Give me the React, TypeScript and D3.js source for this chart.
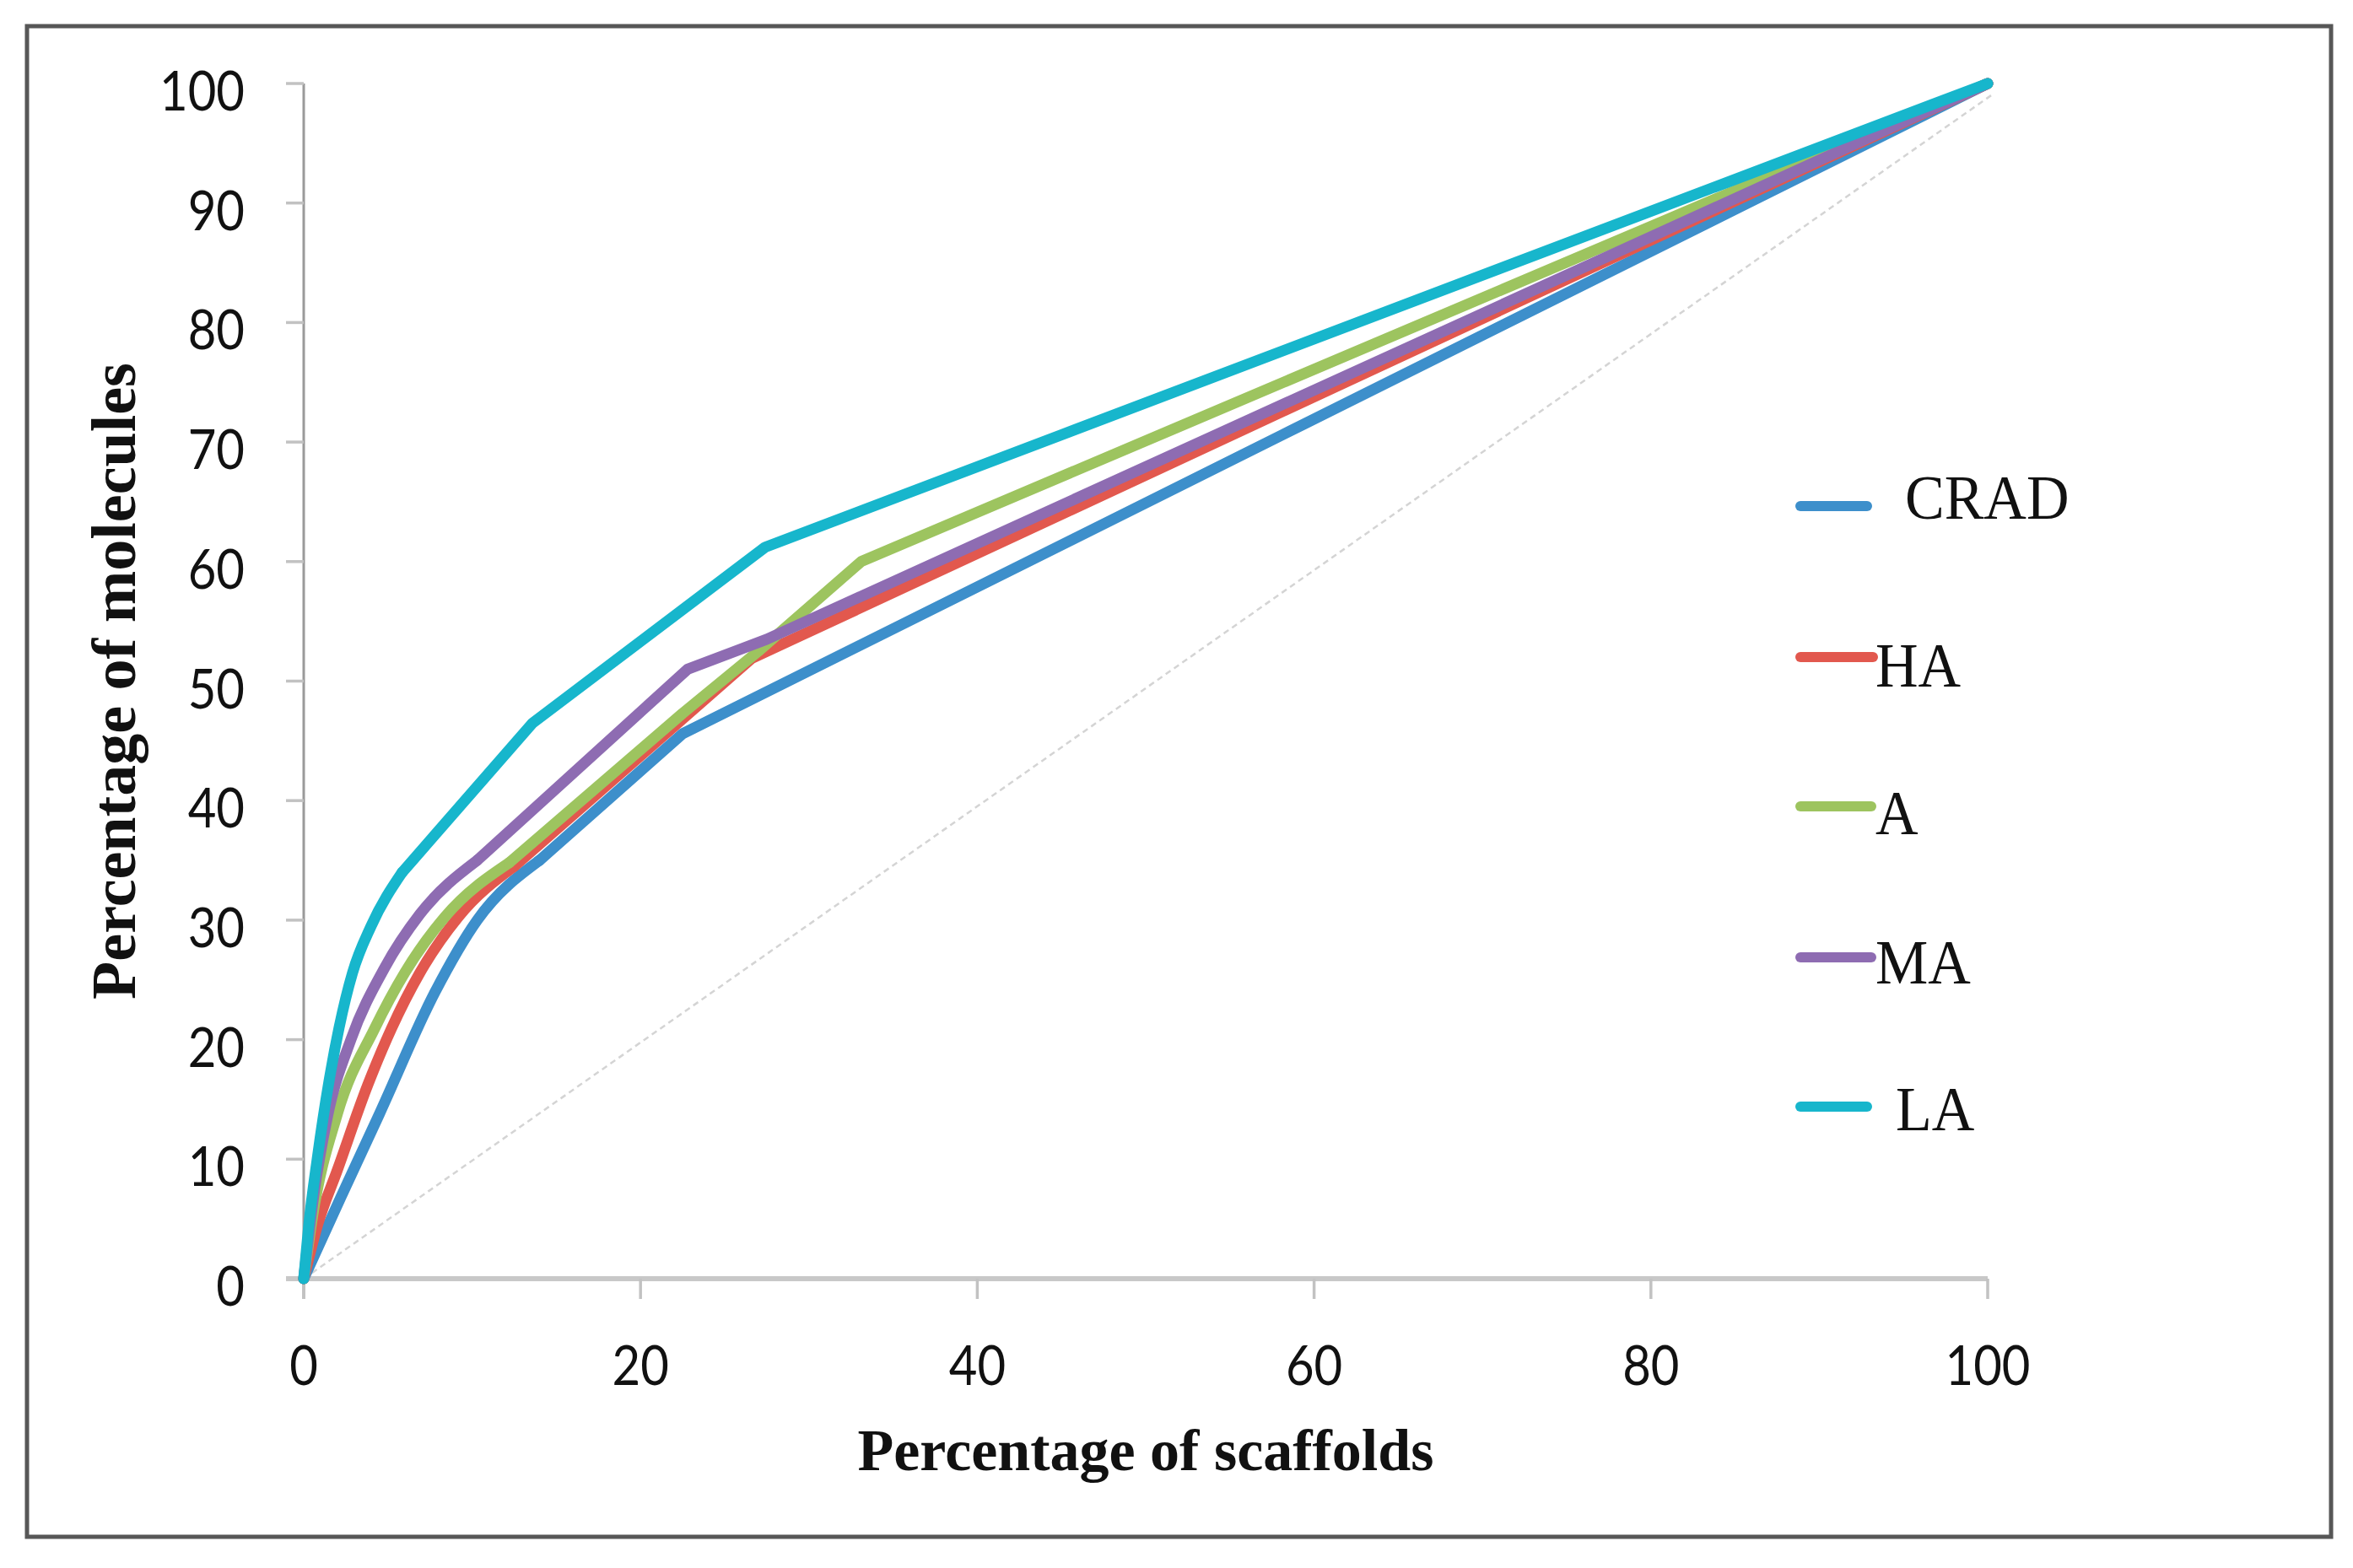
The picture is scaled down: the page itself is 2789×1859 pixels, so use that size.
import React from "react";
import * as d3 from "d3";

// series values: [percentage of scaffolds, percentage of molecules]
const crad: [number, number][] = [
  [0, 0], [2.2, 6.8], [4.5, 13.8], [7.8, 24], [10.3, 30], [14, 35], [22.5, 45.6], [100, 100],
];
const ha: [number, number][] = [
  [0, 0], [0.8, 4.4], [2, 9.1], [3.8, 16.2], [5.2, 20.9], [6.9, 25.6], [9.2, 30.3],
  [12.5, 34.5], [26.6, 51.9], [100, 100],
];
const a: [number, number][] = [
  [0, 0], [0.5, 5], [2, 13.8], [4.2, 20.9], [6, 25.6], [8.4, 30.3], [12.2, 34.8],
  [22.5, 47.3], [27, 52.5], [33.1, 60], [100, 100],
];
const ma: [number, number][] = [
  [0, 0], [0.6, 7], [1.4, 13.5], [2.8, 20], [4.8, 26], [6.9, 30.5], [10.3, 35],
  [22.8, 51], [27.5, 53.5], [100, 100],
];
const la: [number, number][] = [
  [0, 0], [0.3, 4.5], [0.8, 10], [1.5, 16.5], [2.1, 21], [2.9, 25.6], [4, 29.5],
  [5.85, 34], [13.6, 46.5], [27.4, 61.2], [100, 100],
];
const diagonal: [number, number][] = [[0, 0], [100.4, 99.2]];

const seriesNames = ["CRAD", "HA", "A", "MA", "LA"];
const seriesData = [crad, ha, a, ma, la];
// index of the last point of the densely sampled (curved) start of each series
const seriesCurveEnd = [5, 7, 6, 6, 7];
const seriesColors = ["#3d8fcb", "#e2584e", "#9dc45f", "#8e6cb2", "#17b6cc"];

const xTicks = [0, 20, 40, 60, 80, 100];
const yTicks = [0, 10, 20, 30, 40, 50, 60, 70, 80, 90, 100];

const W = 2789;
const H = 1859;

export default function App() {
  const x = d3.scaleLinear().domain([0, 100]).range([360, 2356]);
  const y = d3.scaleLinear().domain([0, 100]).range([1516, 99]);

  const line = d3
    .line<[number, number]>()
    .x((d) => x(d[0]))
    .y((d) => y(d[1]))
    .curve(d3.curveLinear);

  const smooth = d3
    .line<[number, number]>()
    .x((d) => x(d[0]))
    .y((d) => y(d[1]))
    .curve(d3.curveMonotoneX);

  // legend placement (per entry: line end, text start, line y, text baseline)
  const legLineY = [600, 779, 956, 1135, 1312];
  const legTextY = [615, 814, 989, 1166, 1340];
  const legTextX = [2258, 2223, 2223, 2223, 2247];
  const legLineEnd = [2213, 2220, 2218, 2218, 2213];

  return (
    <svg width={W} height={H} style={{ display: "block", background: "#fff" }}>
      <style>{`body{margin:0}`}</style>
      <rect x={32} y={31} width={2731} height={1791} fill="#fff" stroke="#575757" strokeWidth={5} />

      {/* diagonal reference */}
      <path d={line(diagonal) ?? ""} fill="none" stroke="#d4d4d4" strokeWidth={2.5} strokeDasharray="7 5" />

      {/* y axis */}
      <line x1={x(0)} x2={x(0)} y1={y(100)} y2={y(0) + 24} stroke="#9a9a9a" strokeWidth={3} />
      {yTicks.map((t) => (
        <g key={"y" + t}>
          <line x1={x(0) - 21} x2={x(0)} y1={y(t)} y2={y(t)} stroke="#c2c2c2" strokeWidth={3.5} />
          <text
            transform={`translate(290,${y(t) + 32}) scale(1,1.13)`}
            textAnchor="end"
            fontFamily="Lato"
            fontSize={58}
            fill="#111"
          >
            {t}
          </text>
        </g>
      ))}

      {/* x axis */}
      <line x1={x(0) - 21} x2={x(100)} y1={y(0)} y2={y(0)} stroke="#c8c8c8" strokeWidth={6} />
      {xTicks.map((t) => (
        <g key={"x" + t}>
          <line x1={x(t)} x2={x(t)} y1={y(0)} y2={y(0) + 24} stroke="#c2c2c2" strokeWidth={3.5} />
          <text
            transform={`translate(${x(t)},1642) scale(1,1.13)`}
            textAnchor="middle"
            fontFamily="Lato"
            fontSize={58}
            fill="#111"
          >
            {t}
          </text>
        </g>
      ))}

      {/* series: curved dense start, straight tail */}
      {seriesData.map((s, i) => {
        const k = seriesCurveEnd[i];
        return (
          <g key={seriesNames[i]} fill="none" stroke={seriesColors[i]} strokeWidth={13}
             strokeLinejoin="round" strokeLinecap="round">
            <path d={smooth(s.slice(0, k + 1)) ?? ""} />
            <path d={line(s.slice(k)) ?? ""} />
          </g>
        );
      })}

      {/* legend */}
      {seriesNames.map((n, i) => (
        <g key={"leg" + n}>
          <line
            x1={2134}
            x2={legLineEnd[i]}
            y1={legLineY[i]}
            y2={legLineY[i]}
            stroke={seriesColors[i]}
            strokeWidth={12}
            strokeLinecap="round"
          />
          <text
            transform={`translate(${legTextX[i]},${legTextY[i]}) scale(1,1.06)`}
            fontFamily="Liberation Serif"
            fontSize={70}
            fill="#111"
          >
            {n}
          </text>
        </g>
      ))}

      {/* axis titles */}
      <text
        x={(x(0) + x(100)) / 2}
        y={1743}
        textAnchor="middle"
        fontFamily="Liberation Serif"
        fontWeight="bold"
        fontSize={70}
        fill="#111"
      >
        Percentage of scaffolds
      </text>
      <text
        transform={`translate(160,${(y(0) + y(100)) / 2}) rotate(-90)`}
        textAnchor="middle"
        fontFamily="Liberation Serif"
        fontWeight="bold"
        fontSize={74}
        fill="#111"
      >
        Percentage of molecules
      </text>
    </svg>
  );
}
